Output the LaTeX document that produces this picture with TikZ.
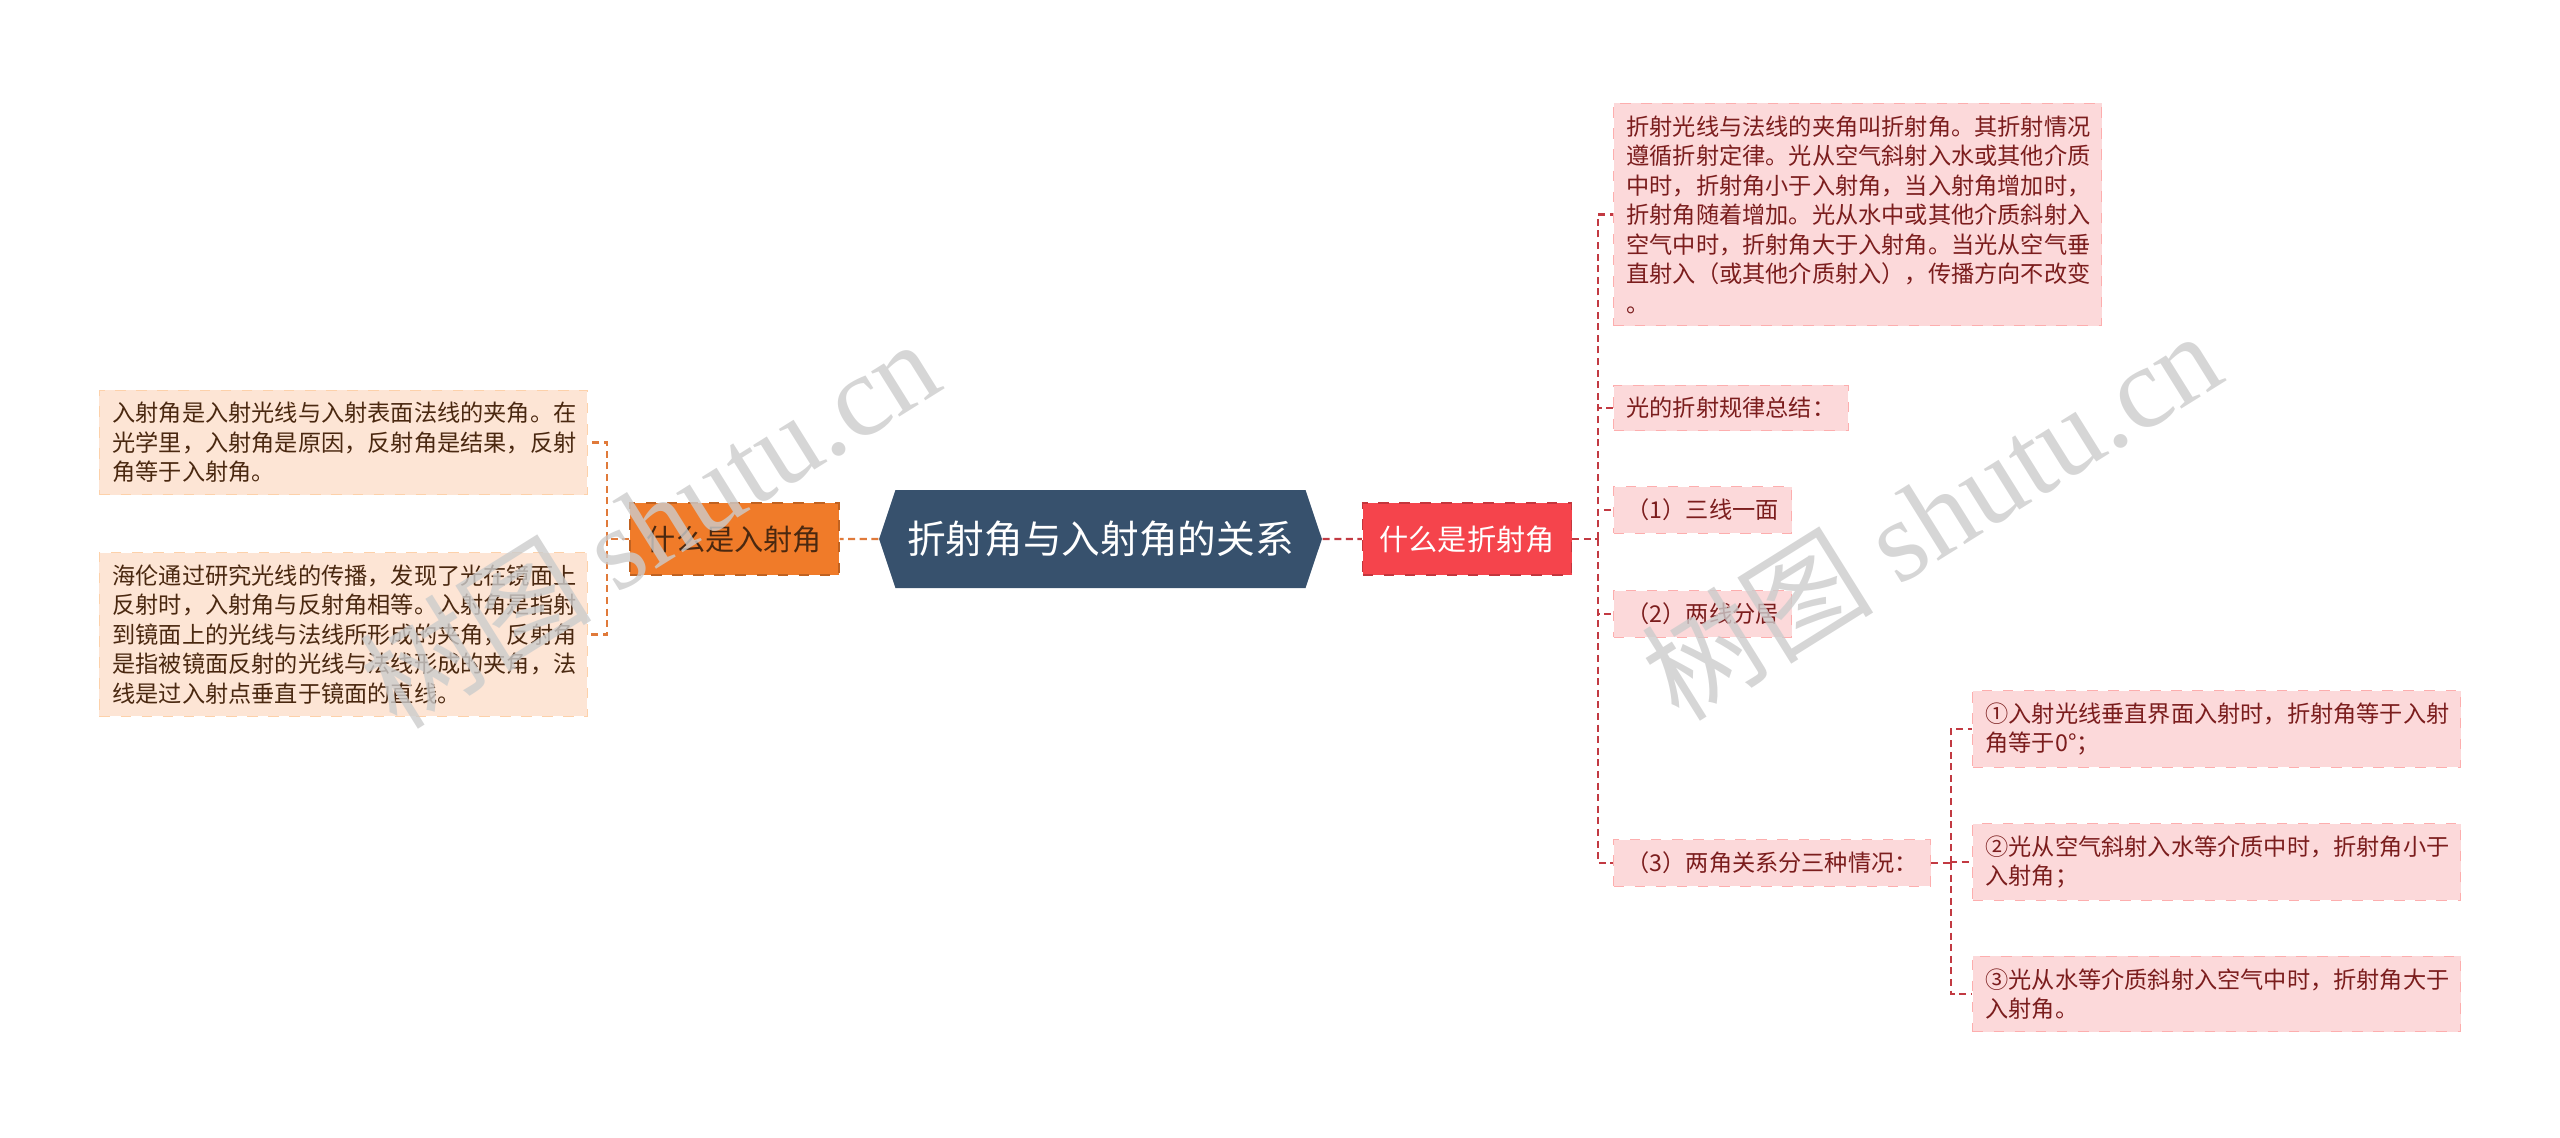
\documentclass[tikz,border=0pt]{standalone}
\usepackage{fontspec}
\setmainfont{Noto Sans CJK SC}
\newfontfamily\wmlatin{Liberation Serif}
\usetikzlibrary{shapes.symbols}

\definecolor{rootblue}{HTML}{37516D}
\definecolor{qinfill}{HTML}{F07B29}
\definecolor{qzhefill}{HTML}{F5444C}
\definecolor{leftfill}{HTML}{FDE5D5}
\definecolor{rightfill}{HTML}{FCD9DA}
\definecolor{lefttext}{HTML}{4A2810}
\definecolor{righttext}{HTML}{7B1D1D}
\definecolor{leftline}{HTML}{E07A3A}
\definecolor{rightline}{HTML}{C23A42}
\newcommand{\leaffont}{\fontsize{6.6pt}{8.4pt}\selectfont}

\begin{document}
\begin{tikzpicture}[
    leafl/.style={fill=leftfill, draw=leftfill!80!orange, dashed, line width=0.3pt,
      text=lefttext, font=\leaffont, align=left, inner xsep=0.13cm, inner ysep=0.12cm},
    leafr/.style={leafl, fill=rightfill, draw=rightfill!80!red, text=righttext},
    wide/.style={text width=4.62cm},
    lline/.style={draw=leftline, line width=0.6pt, dash pattern=on 2pt off 1.3pt},
    rline/.style={lline, draw=rightline},
    hexroot/.style={signal, signal to=east and west, signal pointer angle=143,
      fill=rootblue, text=white, font=\fontsize{11pt}{13pt}\selectfont,
      minimum height=0.98cm, minimum width=4.37cm},
    branch/.style={dashed, line width=0.4pt, font=\fontsize{8.3pt}{10pt}\selectfont,
      minimum width=2.09cm, minimum height=0.72cm},
    wm/.style={text=gray!40, opacity=0.8, font=\fontsize{33pt}{36pt}\selectfont, rotate=32}
  ]
    \useasboundingbox (0,0) rectangle (25.6,-11.37);

    \node[hexroot] (root) at (11.005,-5.39) {折射角与入射角的关系};
    \node[branch, fill=qinfill, draw=qinfill!80!black, text=lefttext] (qin) at (7.345,-5.39) {什么是入射角};
    \node[branch, fill=qzhefill, draw=qzhefill!80!black, text=white] (qzhe) at (14.67,-5.39) {什么是折射角};

    % left side
    \node[leafl, wide, anchor=east] (l1) at (5.88,-4.425) {入射角是入射光线与入射表面法线的夹角。在\\光学里，入射角是原因，反射角是结果，反射\\角等于入射角。};
    \node[leafl, wide, anchor=east] (l2) at (5.88,-6.345) {海伦通过研究光线的传播，发现了光在镜面上\\反射时，入射角与反射角相等。入射角是指射\\到镜面上的光线与法线所形成的夹角，反射角\\是指被镜面反射的光线与法线形成的夹角，法\\线是过入射点垂直于镜面的直线。};

    % right side
    \node[leafr, wide, anchor=west] (r1) at (16.13,-2.145) {折射光线与法线的夹角叫折射角。其折射情况\\遵循折射定律。光从空气斜射入水或其他介质\\中时，折射角小于入射角，当入射角增加时，\\折射角随着增加。光从水中或其他介质斜射入\\空气中时，折射角大于入射角。当光从空气垂\\直射入（或其他介质射入），传播方向不改变\\。};
    \node[leafr, anchor=west] (r2) at (16.13,-4.08) {光的折射规律总结：};
    \node[leafr, anchor=west] (r3) at (16.13,-5.10) {（1）三线一面};
    \node[leafr, anchor=west] (r4) at (16.13,-6.14) {（2）两线分居};
    \node[leafr, anchor=west] (r5) at (16.13,-8.63) {（3）两角关系分三种情况：};
    \node[leafr, wide, anchor=west] (s1) at (19.72,-7.29) {①入射光线垂直界面入射时，折射角等于入射\\角等于0°；};
    \node[leafr, wide, anchor=west] (s2) at (19.72,-8.62) {②光从空气斜射入水等介质中时，折射角小于\\入射角；};
    \node[leafr, wide, anchor=west] (s3) at (19.72,-9.94) {③光从水等介质斜射入空气中时，折射角大于\\入射角。};

    \coordinate (lb) at (6.07,-5.39);
    \coordinate (rb) at (15.98,-5.39);
    \coordinate (sb) at (19.51,-8.63);

    \draw[lline] (root) -- (qin);
    \draw[lline] (qin) -- (lb);
    \draw[lline] (lb) |- (l1);
    \draw[lline] (lb) |- (l2);
    \draw[rline] (root) -- (qzhe);
    \draw[rline] (qzhe) -- (rb);
    \foreach \n in {r1,r2,r3,r4,r5}
      \draw[rline] (rb) |- (\n);
    \draw[rline] (r5) -- (sb);
    \foreach \n in {s1,s2,s3}
      \draw[rline] (sb) |- (\n);

    % watermarks
    \node[wm] (wmleft) at (6.49,-5.22) {树图 {\wmlatin shutu.cn}};
    \node[wm] (wmright) at (19.31,-5.14) {树图 {\wmlatin shutu.cn}};
  \end{tikzpicture}
\end{document}
